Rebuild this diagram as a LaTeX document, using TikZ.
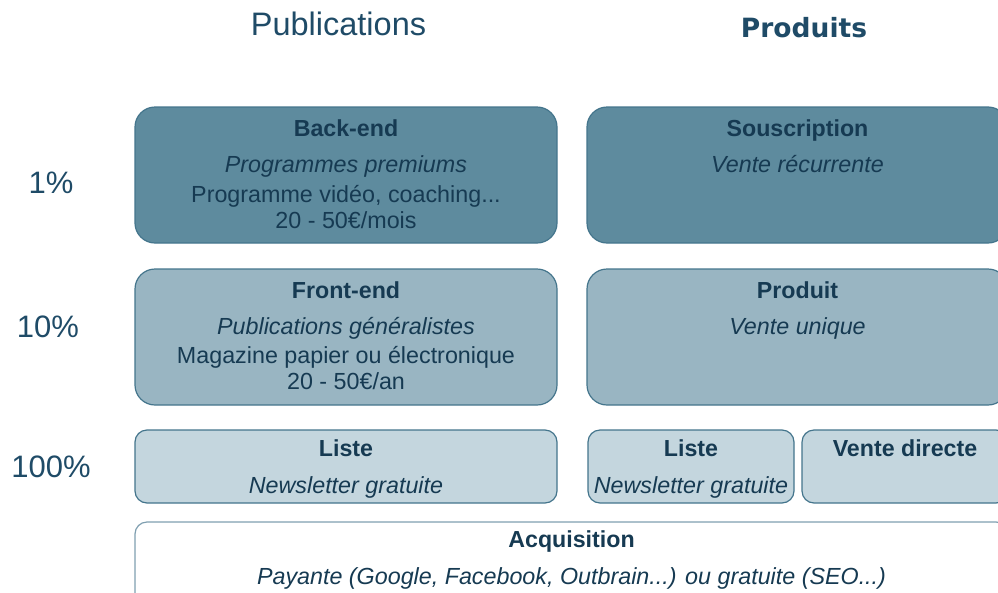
\documentclass[tikz,border=0pt]{standalone}
\usepackage{fontspec}
\setmainfont{Liberation Sans}
\newfontfamily\prodfont{DejaVu Sans}
\usetikzlibrary{positioning}

\definecolor{ink}{HTML}{163A52}
\definecolor{lbl}{HTML}{1F4B67}
\definecolor{edge}{HTML}{44758C}
\definecolor{soft}{HTML}{7F9FB0}
\definecolor{deep}{HTML}{5E8B9E}
\definecolor{mid}{HTML}{99B5C2}
\definecolor{pale}{HTML}{C4D6DE}

\begin{document}
\begin{tikzpicture}[x=1pt,y=-1pt,
  panel/.style={draw=edge,line width=1.2pt,rounded corners=20pt,inner sep=0pt},
  small/.style={panel,rounded corners=12pt},
  ttl/.style={anchor=base,inner sep=0pt,text=ink,font=\fontsize{23.2}{26}\selectfont\bfseries},
  sub/.style={anchor=base,inner sep=0pt,text=ink,font=\fontsize{23.3}{26}\selectfont\itshape},
  txt/.style={anchor=base,inner sep=0pt,text=ink,font=\fontsize{23.3}{26}\selectfont},
  pct/.style={anchor=base,inner sep=0pt,text=lbl,font=\fontsize{31}{34}\selectfont}]

\useasboundingbox (0,0) rectangle (998,592);
\clip (0,0) rectangle (998,592);

% column heads
\node [anchor=base,inner sep=0pt,text=lbl,font=\fontsize{32.5}{36}\selectfont] (pub) at (338.5,35) {Publications};
\node [anchor=base,inner sep=0pt,text=lbl,font=\prodfont\fontsize{26.5}{30}\selectfont\bfseries] (prod) at (804,37) {Produits};

% row labels
\node [pct] (p1) at (51,193) {1\%};
\node [pct] (p10) at (48,337) {10\%};
\node [pct] (p100) at (51,477) {100\%};

% boxes
\node [panel,fill=deep,minimum width=422pt,minimum height=136pt] (back) at (346,175) {};
\node [panel,fill=deep,minimum width=421pt,minimum height=136pt] (sous) at (797.5,175) {};
\node [panel,fill=mid,minimum width=422pt,minimum height=136pt] (front) at (346,337) {};
\node [panel,fill=mid,minimum width=421pt,minimum height=136pt] (prodt) at (797.5,337) {};
\node [small,fill=pale,minimum width=422pt,minimum height=73pt] (liste) at (346,466.5) {};
\node [small,fill=pale,minimum width=206pt,minimum height=73pt] (liste2) at (691,466.5) {};
\node [small,fill=pale,minimum width=206pt,minimum height=73pt] (vente) at (905,466.5) {};
\node [small,draw=soft,fill=white,minimum width=873pt,minimum height=108pt] (acq) at (571.5,576) {};

% texts
\node [ttl] (backT) at (346,136) {Back-end};
\node [sub] (backS) at (346,172.5) {Programmes premiums};
\node [txt] (backA) at (346,202) {Programme vidéo, coaching...};
\node [txt] (backB) at (346,228) {20 - 50€/mois};

\node [ttl] (sousT) at (797.5,136) {Souscription};
\node [sub] (sousS) at (797.5,172.5) {Vente récurrente};

\node [ttl] (frontT) at (346,298) {Front-end};
\node [sub] (frontS) at (346,334.5) {Publications généralistes};
\node [txt] (frontA) at (346,363) {Magazine papier ou électronique};
\node [txt] (frontB) at (346,389) {20 - 50€/an};

\node [ttl] (prodtT) at (797.5,298) {Produit};
\node [sub] (prodtS) at (797.5,334.5) {Vente unique};

\node [ttl] (listeT) at (346,456) {Liste};
\node [sub] (listeS) at (346,493) {Newsletter gratuite};
\node [ttl] (liste2T) at (691,456) {Liste};
\node [sub] (liste2S) at (691,493) {Newsletter gratuite};
\node [ttl] (venteT) at (905,456) {Vente directe};

\node [ttl] (acqT) at (571.5,547) {Acquisition};
\node [sub] (acqS) at (571.5,584) {Payante (Google, Facebook, Outbrain...) ou gratuite (SEO...)};

\end{tikzpicture}
\end{document}
